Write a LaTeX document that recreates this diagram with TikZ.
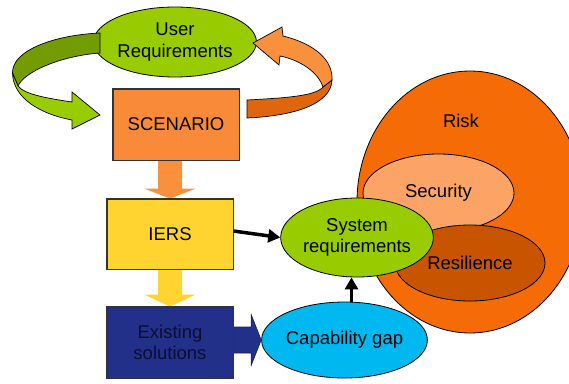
\documentclass[tikz,border=0pt]{standalone}
\usepackage{fontspec}
\setmainfont{Liberation Sans}
\usetikzlibrary{calc,arrows.meta,shapes.geometric}
\definecolor{lgreen}{HTML}{99CC00}
\definecolor{dgreen}{HTML}{729C00}
\definecolor{scenor}{HTML}{F88A3A}
\definecolor{arrowor}{HTML}{F8903C}
\definecolor{darkor}{HTML}{E0660E}
\definecolor{iersy}{HTML}{FFD430}
\definecolor{navy}{HTML}{22308A}
\definecolor{navytext}{HTML}{0A0E30}
\definecolor{capblue}{HTML}{00B8F0}
\definecolor{riskor}{HTML}{F56C06}
\definecolor{secor}{HTML}{FBA466}
\definecolor{resor}{HTML}{C85400}
\tikzset{
  txt/.style={font=\fontsize{18.5}{21.5}\selectfont, align=center, inner sep=0pt},
  ell/.style={ellipse, draw=black, line width=0.8pt, txt},
  box/.style={rectangle, draw=black!80, line width=0.8pt, txt},
  blk/.style={draw=black, line width=3.5pt, -{Triangle[length=12pt,width=13pt]}},
}
\begin{document}
\begin{tikzpicture}[x=1pt,y=-1pt]
\useasboundingbox (0,0) rectangle (569,383);
% Risk group
\begin{scope}
\clip (0,0) rectangle (569,383);
\node[ell, fill=riskor, minimum width=226pt, minimum height=262pt] (risk) at (470,202) {};
\end{scope}
\node[txt] (risklbl) at (461,121) {Risk};
\node[ell, fill=secor, minimum width=151pt, minimum height=78pt] (sec) at (438.5,193) {Security};
\node[ell, fill=resor, minimum width=150pt, minimum height=76pt] (res) at (470,263) {Resilience};
% main nodes
\node[ell, fill=lgreen, minimum width=150pt, minimum height=70pt] (ur) at (175,42) {User\\Requirements};
\node[box, fill=scenor, minimum width=126pt, minimum height=71pt] (scen) at (176,124.5) {SCENARIO};
\node[box, fill=iersy, minimum width=126pt, minimum height=70pt] (iers) at (170,234) {IERS};
\node[box, fill=navy, text=navytext, minimum width=126pt, minimum height=71pt] (ex) at (170,342.5) {Existing\\solutions};
\node[ell, fill=lgreen, minimum width=150pt, minimum height=79pt] (sys) at (357,237.5) {System\\requirements};
\node[ell, fill=capblue, minimum width=151pt, minimum height=76pt] (cap) at (344.5,340) {Capability gap};
% block arrows
\fill[arrowor] let \p1=(iers.north), \p2=(scen.south) in
  (\x1-12pt,\y2) -- (\x1+12pt,\y2) -- (\x1+12pt,\y1+10pt) -- (\x1+25.5pt,\y1+10pt)
  -- (\x1,\y1) -- (\x1-25.5pt,\y1+10pt) -- (\x1-12pt,\y1+10pt) -- cycle;
\fill[iersy] let \p1=(ex.north), \p2=(iers.south) in
  (\x1-12pt,\y2) -- (\x1+12pt,\y2) -- (\x1+12pt,\y1+12pt) -- (\x1+25.5pt,\y1+12pt)
  -- (\x1,\y1) -- (\x1-25.5pt,\y1+12pt) -- (\x1-12pt,\y1+12pt) -- cycle;
\filldraw[fill=navy, draw=navy!70!black, line width=0.6pt] let \p1=(cap.west), \p2=(ex.east) in
  (\x2,\y1+13pt) -- (\x1-10pt,\y1+13pt) -- (\x1-10pt,\y1+25.5pt) -- (\x1,\y1)
  -- (\x1-10pt,\y1-25.5pt) -- (\x1-10pt,\y1-13pt) -- (\x2,\y1-13pt) -- cycle;
% redraw box borders over arrows
\draw[draw=black!80, line width=0.8pt] (scen.south west) rectangle (scen.north east);
\draw[draw=black!80, line width=0.8pt] (iers.south west) rectangle (iers.north east);
\draw[draw=black!80, line width=0.8pt] (ex.south west) rectangle (ex.north east);
% black connectors
\draw[blk] ($(iers.east)+(0,-3)$) -- (sys.west);
\coordinate (capup) at ($(cap.north)+(7,0)$);
\draw[blk] (capup) -- (capup |- sys.south);
% green curved arrow (left)
\filldraw[fill=dgreen, draw=black, line width=0.7pt]
  (100,33) .. controls (55,35) and (12,50) .. (12.5,73)
  -- (18,86) .. controls (24,72) and (60,56) .. (100,53) -- cycle;
\filldraw[fill=lgreen, draw=black, line width=0.7pt]
  (12.5,73) .. controls (13,98) and (40,114) .. (72,120)
  -- (72,129) -- (100,115) -- (72,92) -- (72,102)
  .. controls (45,98) and (24,94) .. (18,86) -- cycle;
% orange curved arrow (right)
\filldraw[fill=darkor, draw=black, line width=0.7pt]
  (332,80) .. controls (331,105) and (292,116) .. (247,118)
  -- (247,100) .. controls (285,98) and (316,96) .. (323,87) -- cycle;
\filldraw[fill=arrowor, draw=black, line width=0.7pt]
  (253,43) -- (282,27) -- (283,36) .. controls (315,44) and (333,60) .. (332,80)
  -- (323,87) .. controls (318,72) and (300,60) .. (280,56) -- (279,65) -- cycle;
\end{tikzpicture}
\end{document}
